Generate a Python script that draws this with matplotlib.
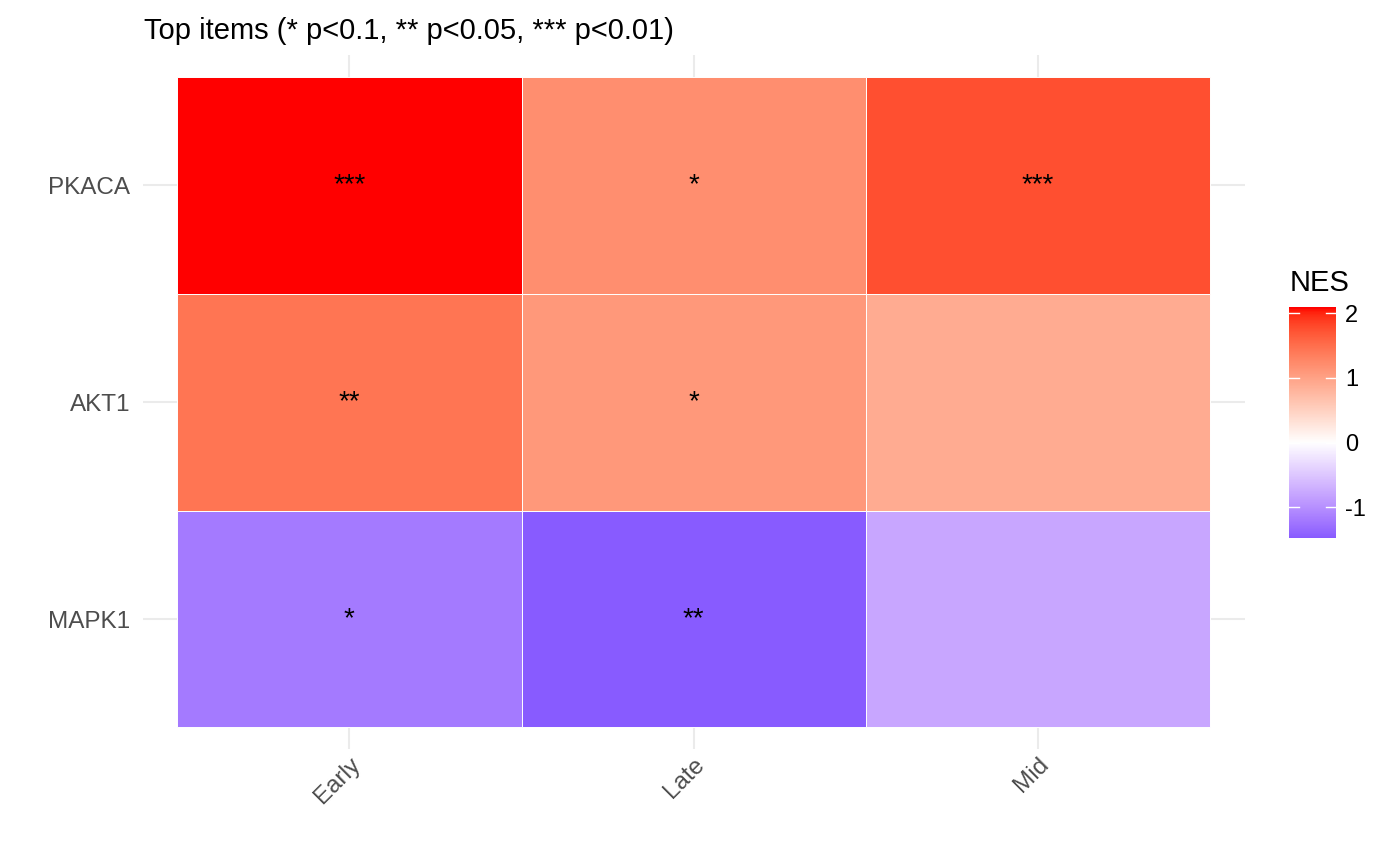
import matplotlib.pyplot as plt
import numpy as np
from matplotlib.colors import ListedColormap

plt.rcParams['font.family'] = ['Liberation Sans', 'DejaVu Sans']
plt.rcParams['axes.unicode_minus'] = False

# data
stages = ['Early', 'Late', 'Mid']
genes = ['MAPK1', 'AKT1', 'PKACA']   # bottom to top
nes = np.array([
    [-1.20, -1.47, -0.80],   # MAPK1
    [1.45, 1.10, 0.90],      # AKT1
    [2.09, 1.20, 1.75],      # PKACA
])
stars = [
    ['*', '**', ''],
    ['**', '*', ''],
    ['***', '*', '***'],
]


# Lab interpolation (like ggplot's scale_fill_gradient2)
def srgb_to_lab(c):
    c = np.asarray(c, float)
    lin = np.where(c <= 0.04045, c / 12.92, ((c + 0.055) / 1.055) ** 2.4)
    M = np.array([[0.4124, 0.3576, 0.1805],
                  [0.2126, 0.7152, 0.0722],
                  [0.0193, 0.1192, 0.9505]])
    xyz = M @ lin / np.array([0.95047, 1.0, 1.08883])
    f = np.where(xyz > 0.008856, np.cbrt(xyz), 7.787 * xyz + 16 / 116)
    return np.array([116 * f[1] - 16, 500 * (f[0] - f[1]), 200 * (f[1] - f[2])])


def lab_to_srgb(lab):
    L, a, b = lab
    fy = (L + 16) / 116
    fx = fy + a / 500
    fz = fy - b / 200
    f = np.array([fx, fy, fz])
    xyz = np.where(f ** 3 > 0.008856, f ** 3, (f - 16 / 116) / 7.787)
    xyz = xyz * np.array([0.95047, 1.0, 1.08883])
    Minv = np.array([[3.2406, -1.5372, -0.4986],
                     [-0.9689, 1.8758, 0.0415],
                     [0.0557, -0.2040, 1.0570]])
    lin = Minv @ xyz
    c = np.where(lin <= 0.0031308, 12.92 * lin, 1.055 * np.clip(lin, 0, None) ** (1 / 2.4) - 0.055)
    return np.clip(c, 0, 1)


low, mid, high = srgb_to_lab([0, 0, 1]), srgb_to_lab([1, 1, 1]), srgb_to_lab([1, 0, 0])
cols = []
for t in np.linspace(0, 1, 256):
    if t < 0.5:
        cols.append(lab_to_srgb(low + (mid - low) * (t / 0.5)))
    else:
        cols.append(lab_to_srgb(mid + (high - mid) * ((t - 0.5) / 0.5)))
cmap = ListedColormap(cols)

vmin, vmax = nes.min(), nes.max()
m = max(abs(vmin), abs(vmax))

fig = plt.figure(figsize=(14, 8.66), dpi=100)
ax = fig.add_axes([0.102, 0.135, 0.787, 0.801])

for i, g in enumerate(genes):
    for j, s in enumerate(stages):
        v = nes[i, j]
        ax.add_patch(plt.Rectangle((j + 0.5, i + 0.5), 1, 1,
                                   facecolor=cmap((v / m + 1) / 2),
                                   edgecolor='white', linewidth=0.7))
        ax.text(j + 1, i + 1, stars[i][j], ha='center', va='center', fontsize=20, color='black')

ax.set_xlim(0.4, 3.6)
ax.set_ylim(0.4, 3.6)
ax.set_xticks([1, 2, 3])
ax.set_xticklabels(stages, rotation=45, ha='right', rotation_mode='anchor', fontsize=17.5, color='#4D4D4D')
ax.set_yticks([1, 2, 3])
ax.set_yticklabels(genes, fontsize=17.5, color='#4D4D4D')
ax.tick_params(length=0, pad=9)
ax.tick_params(axis='x', pad=3)
ax.grid(True, color='#EBEBEB', linewidth=1.5, zorder=0)
ax.set_axisbelow(True)
for sp in ax.spines.values():
    sp.set_visible(False)
ax.set_title('Top items (* p<0.1, ** p<0.05, *** p<0.01)', loc='left', fontsize=21, x=0.001, pad=12)

# colour bar
cax = fig.add_axes([0.921, 0.379, 0.033, 0.266])
grad = np.linspace(vmin, vmax, 300).reshape(-1, 1)
cax.imshow(grad, aspect='auto', origin='lower', cmap=cmap, vmin=-m, vmax=m,
           extent=[0, 1, vmin, vmax])
cax.set_xlim(0, 1)
cax.set_ylim(vmin, vmax)
cax.set_xticks([])
cax.yaxis.tick_right()
cax.set_yticks([-1, 0, 1, 2])
cax.tick_params(axis='y', length=0, labelsize=17, pad=7)
for t in [-1, 0, 1, 2]:
    cax.plot([0, 0.2], [t, t], color='white', linewidth=1)
    cax.plot([0.8, 1], [t, t], color='white', linewidth=1)
for sp in cax.spines.values():
    sp.set_visible(False)
cax.set_title('NES', fontsize=21, loc='left', pad=12)

fig.savefig('out.png', dpi=100)
